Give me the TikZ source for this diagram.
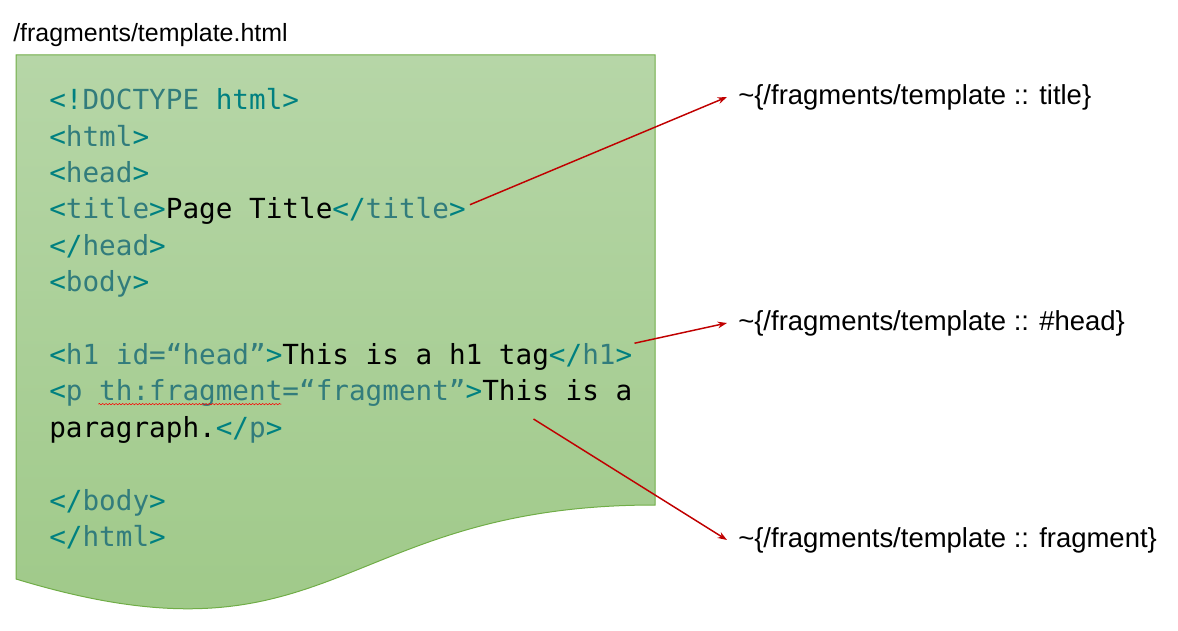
\documentclass[tikz,border=0pt]{standalone}
\usepackage{fontspec}
\setmainfont{Liberation Sans}
\newfontfamily\codefont{DejaVu Sans Mono}
\usetikzlibrary{arrows.meta,decorations.pathmorphing}
\definecolor{tagdelim}{RGB}{0,128,128}
\definecolor{tagname}{RGB}{50,124,124}
\definecolor{doctop}{RGB}{182,214,167}
\definecolor{docbottom}{RGB}{157,200,134}
\definecolor{docedge}{RGB}{112,173,71}
\definecolor{linkred}{RGB}{192,0,0}
\newcommand\dl[1]{\textcolor{tagdelim}{#1}}
\newcommand\nm[1]{\textcolor{tagname}{#1}}

\begin{document}
\begin{tikzpicture}[
    x=0.75pt, y=-0.75pt,  % one unit = one pixel of the target
    % Node styles:
    code/.style={anchor=base west, inner sep=0pt,
                 font=\codefont\fontsize{20.75pt}{25pt}\selectfont},
    ref/.style={anchor=west, inner xsep=8.25pt, inner ysep=0pt,
                font=\fontsize{20.6pt}{24pt}\selectfont},
    % Arrow styles:
    link/.style={-{Stealth[length=7pt,width=5pt]}, draw=linkred, line width=1.1pt},
    spell/.style={draw=red, line width=0.4pt, decorate,
                  decoration={snake, amplitude=0.5pt, segment length=2.5pt}},
]
\useasboundingbox (0,0) rectangle (1178,631);

% --- FILE NAME ---
\node[anchor=base west, inner sep=0pt, font=\fontsize{18.7pt}{22pt}\selectfont]
      (filename) at (13,42) {/fragments/template.html};

% --- DOCUMENT SHAPE ---
\path[draw=docedge, line width=0.75pt, top color=doctop, bottom color=docbottom]
    (16,55) -- (655,55) -- (655,505)
    .. controls (335.5,505) and (335.5,676) .. (16,579) -- cycle;

% --- CODE LINES ---
\node[code] (doctype) at (49,110)   {\dl{<!}\nm{DOCTYPE} \dl{html>}};
\node[code] (html)    at (49,146.4) {\dl{<}\nm{html}\dl{>}};
\node[code] (head)    at (49,182.7) {\dl{<}\nm{head}\dl{>}};
\node[code] (title)   at (49,219)   {\dl{<}\nm{title}\dl{>}Page Title\dl{</}\nm{title}\dl{>}};
\node[code] (headend) at (49,255.4) {\dl{</}\nm{head}\dl{>}};
\node[code] (body)    at (49,291.8) {\dl{<}\nm{body}\dl{>}};
\node[code] (h1)      at (49,364.5) {\dl{<}\nm{h1 id=“head”}\dl{>}This is a h1 tag\dl{</}\nm{h1}\dl{>}};
\node[code] (para)    at (49,400.8) {\dl{<}\nm{p th:fragment=“fragment”}\dl{>}This is a};
\node[code] (paraend) at (49,437.2) {paragraph.\dl{</}\nm{p}\dl{>}};
\node[code] (bodyend) at (49,510)   {\dl{</}\nm{body}\dl{>}};
\node[code] (htmlend) at (49,546.3) {\dl{</}\nm{html}\dl{>}};

% spell-check squiggle under th:fragment
\draw[spell] ([xshift=37pt,yshift=-2.5pt]para.base west) -- ++(183,0);

% --- FRAGMENT EXPRESSIONS ---
\node[ref] (reftitle) at (727,97)  {\textasciitilde\{/fragments/template :: title\}};
\node[ref] (refhead)  at (727,323) {\textasciitilde\{/fragments/template :: \#head\}};
\node[ref] (reffrag)  at (727,540) {\textasciitilde\{/fragments/template :: fragment\}};

% --- ARROWS ---
\draw[link] ([xshift=3pt,yshift=5pt]title.east) -- (reftitle.west);
\draw[link] ([xshift=1.5pt]h1.north east) -- (refhead.west);
\draw[link] ([xshift=-74.25pt,yshift=-9pt]para.south east) -- (reffrag.west);

\end{tikzpicture}
\end{document}
